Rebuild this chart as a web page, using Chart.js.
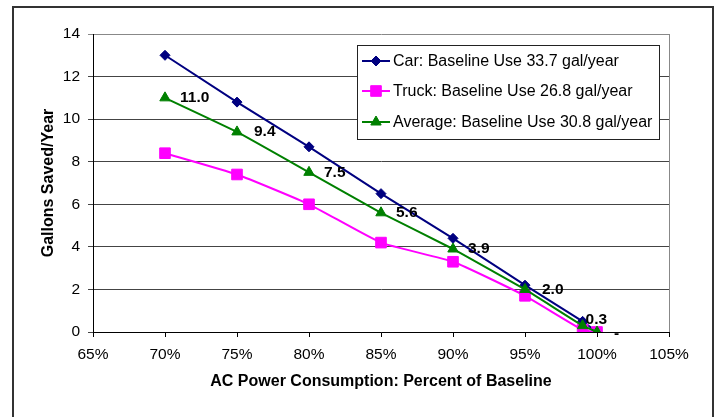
<!DOCTYPE html>
<html>
<head>
<meta charset="utf-8">
<script src="https://cdn.jsdelivr.net/npm/chart.js@4.4.1/dist/chart.umd.min.js"></script>
<style>
  html, body { margin: 0; padding: 0; background: #fff; }
  #wrap { width: 719px; height: 417px; }
</style>
</head>
<body>
<div id="wrap"><canvas id="gallons" width="719" height="417"></canvas></div>
<script>
// AC power consumption (% of baseline)
const acPower = [70, 75, 80, 85, 90, 95, 99, 100];
// gallons saved per year
const carSaved = [13.0, 10.8, 8.7, 6.5, 4.4, 2.2, 0.5, 0];
const truckSaved = [8.4, 7.4, 6.0, 4.2, 3.3, 1.7, 0.1, 0];
const avgSaved = [11.0, 9.4, 7.5, 5.6, 3.9, 2.0, 0.3, 0];
const seriesNames = [
    'Car: Baseline Use 33.7 gal/year',
    'Truck: Baseline Use 26.8 gal/year',
    'Average: Baseline Use 30.8 gal/year'
];
const xTicks = [65, 70, 75, 80, 85, 90, 95, 100, 105];
const yTicks = [0, 2, 4, 6, 8, 10, 12, 14];

const FONT = "'Liberation Sans', Arial, sans-serif";

function toPoints(vals){
    return vals.map((v, i) => ({x: acPower[i], y: v}));
}

// label nudges for the average series (dx, dy in px)
const labelNudge = [[0,0],[2,0],[0,0],[0,0],[0,0],[2,0],[-12,-6],[2,2]];

const framePlugin = {
    id: 'frame',
    beforeDraw(chart){
        const ctx = chart.ctx;
        ctx.save();
        ctx.fillStyle = '#fff';
        ctx.fillRect(0, 0, chart.width, chart.height);
        ctx.strokeStyle = '#333';
        ctx.lineWidth = 2;
        ctx.strokeRect(13, 7, 700, 420);
        ctx.restore();
    },
    beforeDatasetsDraw(chart){
        const ctx = chart.ctx, a = chart.chartArea;
        ctx.save();
        ctx.strokeStyle = '#888';
        ctx.lineWidth = 1;
        ctx.beginPath();
        ctx.moveTo(Math.round(a.right) + 0.5, a.top);
        ctx.lineTo(Math.round(a.right) + 0.5, a.bottom);
        ctx.stroke();
        ctx.restore();
    },
    afterDraw(chart){
        const ctx = chart.ctx;
        ctx.save();
        // data labels on the average series
        const meta = chart.getDatasetMeta(2);
        ctx.font = 'bold 15.5px ' + FONT;
        ctx.fillStyle = '#000';
        ctx.textAlign = 'left';
        ctx.textBaseline = 'middle';
        meta.data.forEach((pt, i) => {
            const v = avgSaved[i];
            const txt = v === 0 ? '-' : v.toFixed(1);
            ctx.fillText(txt, pt.x + 15 + labelNudge[i][0], pt.y + labelNudge[i][1]);
        });

        // legend box
        const bx = 357, by = 45, bw = 302, bh = 94;
        ctx.fillStyle = '#fff';
        ctx.fillRect(bx, by, bw, bh);
        ctx.strokeStyle = '#222';
        ctx.lineWidth = 1;
        ctx.strokeRect(bx + 0.5, by + 0.5, bw, bh);
        const rows = [61, 91, 122];
        chart.data.datasets.forEach((ds, i) => {
            const y = rows[i];
            ctx.strokeStyle = ds.borderColor;
            ctx.lineWidth = 2;
            ctx.beginPath();
            ctx.moveTo(362, y);
            ctx.lineTo(390, y);
            ctx.stroke();
            if (Chart.helpers && Chart.helpers.drawPoint) {
                ctx.fillStyle = ds.backgroundColor;
                ctx.strokeStyle = ds.borderColor;
                ctx.lineWidth = 1;
                Chart.helpers.drawPoint(ctx, {pointStyle: ds.pointStyle, radius: ds.pointRadius, borderWidth: 1}, 376, y);
            }
            ctx.fillStyle = '#000';
            ctx.font = '16px ' + FONT;
            ctx.textAlign = 'left';
            ctx.textBaseline = 'middle';
            ctx.fillText(seriesNames[i], 393, y + 1);
        });
        ctx.restore();
    }
};

const ctx = document.getElementById('gallons');
new Chart(ctx, {
    type: 'line',
    data: {
        datasets: [
            {
                label: seriesNames[0],
                data: toPoints(carSaved),
                borderColor: '#000080',
                backgroundColor: '#000080',
                borderWidth: 2,
                pointStyle: 'rectRot',
                pointRadius: 5,
                pointBorderWidth: 1,
                tension: 0,
                order: 2
            },
            {
                label: seriesNames[1],
                data: toPoints(truckSaved),
                borderColor: '#ff00ff',
                backgroundColor: '#ff00ff',
                borderWidth: 2,
                pointStyle: 'rect',
                pointRadius: 7.5,
                pointBorderWidth: 1,
                tension: 0.15,
                order: 1
            },
            {
                label: seriesNames[2],
                data: toPoints(avgSaved),
                borderColor: '#008000',
                backgroundColor: '#008000',
                borderWidth: 2,
                pointStyle: 'triangle',
                pointRadius: 6,
                pointBorderWidth: 1,
                tension: 0.1,
                order: 0
            }
        ]
    },
    options: {
        responsive: false,
        animation: false,
        layout: {
            padding: {left: 35, top: 34, right: 50, bottom: 22}
        },
        plugins: {
            legend: {display: false},
            tooltip: {enabled: false}
        },
        scales: {
            x: {
                type: 'linear',
                min: xTicks[0],
                max: xTicks[xTicks.length - 1],
                afterBuildTicks(scale){
                    scale.ticks = xTicks.map(v => ({value: v}));
                },
                afterFit(scale){ scale.height = 63; },
                ticks: {
                    color: '#000',
                    padding: 8,
                    maxRotation: 0,
                    font: {family: FONT, size: 15.5},
                    callback: v => v + '%'
                },
                grid: {
                    drawOnChartArea: false,
                    drawTicks: true,
                    tickLength: 5,
                    color: '#000'
                },
                border: {color: '#000', width: 1},
                title: {
                    display: true,
                    text: 'AC Power Consumption: Percent of Baseline',
                    color: '#000',
                    font: {family: FONT, size: 16, weight: 'bold'}
                }
            },
            y: {
                min: yTicks[0],
                max: yTicks[yTicks.length - 1],
                afterBuildTicks(scale){
                    scale.ticks = yTicks.map(v => ({value: v}));
                },
                afterFit(scale){ scale.width = 58; },
                ticks: {
                    color: '#000',
                    padding: 8,
                    font: {family: FONT, size: 15.5}
                },
                grid: {
                    drawTicks: true,
                    tickLength: 5,
                    color: c => (c.tick && c.tick.value === 14) ? '#888' : '#444'
                },
                border: {color: '#000', width: 1},
                title: {
                    display: true,
                    text: 'Gallons Saved/Year',
                    color: '#000',
                    font: {family: FONT, size: 16, weight: 'bold'}
                }
            }
        }
    },
    plugins: [framePlugin]
});
</script>
</body>
</html>
